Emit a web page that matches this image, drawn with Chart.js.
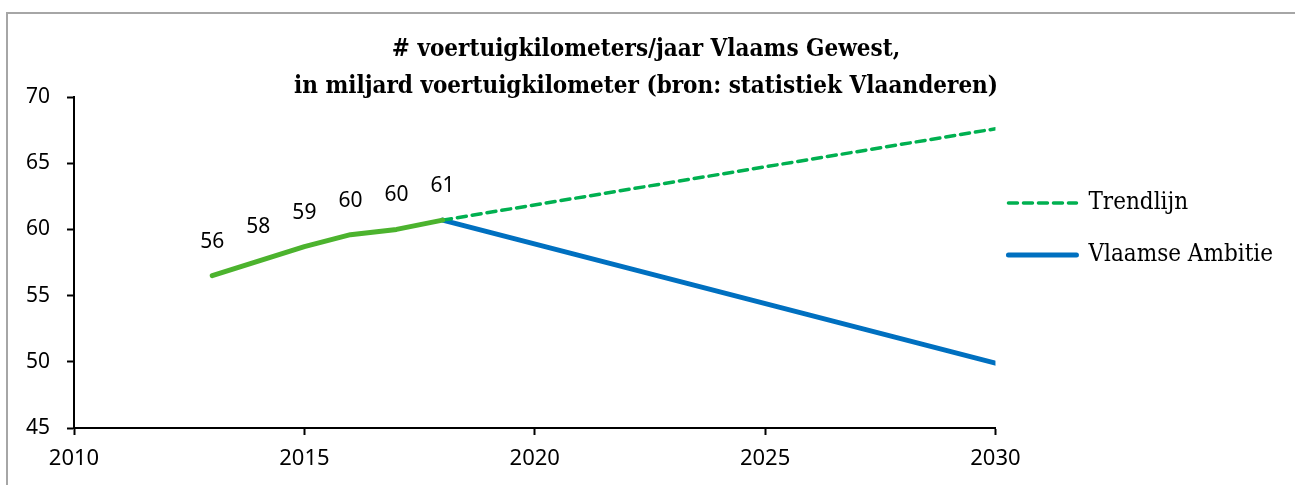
<!DOCTYPE html>
<html>
<head>
<meta charset="utf-8">
<script src="https://cdn.jsdelivr.net/npm/chart.js"></script>
<style>
  html, body { margin: 0; padding: 0; background: #fff; }
  #frame {
    position: absolute; left: 6px; top: 12px; width: 1400px; height: 600px;
    border-left: 2px solid #a6a6a6; border-top: 2px solid #a6a6a6;
  }
  #wrap { position: absolute; left: 0; top: 0; width: 1295px; height: 485px; }
</style>
</head>
<body>
<div id="frame"></div>
<div id="wrap"><canvas id="kmChart"></canvas></div>
<script>
// === DATA ===
const histYears = [2013, 2014, 2015, 2016, 2017, 2018];
const histValues = [56.5, 57.6, 58.7, 59.6, 60.0, 60.7];
const histLabels = ["56", "58", "59", "60", "60", "61"];
const trendYears = [2018, 2030];
const trendValues = [60.7, 67.6];
const ambitieYears = [2018, 2030];
const ambitieValues = [60.7, 49.9];
const xTicks = [2010, 2015, 2020, 2025, 2030];
const yTicks = [45, 50, 55, 60, 65, 70];

const sansFont = "'Noto Sans', sans-serif";
const serifFont = "'DejaVu Serif Condensed', 'DejaVu Serif', serif";

const toPoints = (xs, ys) => xs.map((x, i) => ({ x: x, y: ys[i] }));

// labels boven de historische punten
const pointLabels = {
  id: "pointLabels",
  afterDatasetsDraw(chart) {
    const ctx = chart.ctx;
    const meta = chart.getDatasetMeta(0);
    ctx.save();
    ctx.font = "21px " + sansFont;
    ctx.fillStyle = "#000";
    ctx.textAlign = "center";
    ctx.textBaseline = "middle";
    meta.data.forEach((pt, i) => {
      ctx.fillText(histLabels[i], pt.x, pt.y - 34);
    });
    ctx.restore();
  },
};

const axisGrid = {
  display: true,
  drawOnChartArea: false,
  drawTicks: true,
  tickLength: 7,
  tickColor: "#000",
  tickWidth: 2,
};

const ctx = document.getElementById("kmChart").getContext("2d");
const kmChart = new Chart(ctx, {
  type: "line",
  data: {
    datasets: [
      {
        label: "Historiek",
        data: toPoints(histYears, histValues),
        borderColor: "#4cb32e",
        borderWidth: 5,
        borderCapStyle: "round",
        borderJoinStyle: "round",
        pointRadius: 0,
        fill: false,
        tension: 0,
      },
      {
        label: "Trendlijn",
        data: toPoints(trendYears, trendValues),
        borderColor: "#00b050",
        borderWidth: 3.5,
        borderDash: [9, 6],
        borderCapStyle: "round",
        pointRadius: 0,
        fill: false,
      },
      {
        label: "Vlaamse Ambitie",
        data: toPoints(ambitieYears, ambitieValues),
        borderColor: "#0070c0",
        borderWidth: 5,
        borderCapStyle: "round",
        pointRadius: 0,
        fill: false,
      },
    ],
  },
  options: {
    responsive: true,
    maintainAspectRatio: false,
    animation: false,
    layout: { padding: { left: 9, right: 12, top: 0, bottom: 2 } },
    scales: {
      x: {
        type: "linear",
        min: 2010,
        max: 2030,
        afterBuildTicks: (axis) => { axis.ticks = xTicks.map((v) => ({ value: v })); },
        grid: axisGrid,
        border: { color: "#000", width: 2 },
        ticks: { color: "#000", padding: 13, font: { family: sansFont, size: 22, lineHeight: "22px" }, callback: (v) => String(v) },
      },
      y: {
        min: 45,
        max: 70,
        afterBuildTicks: (axis) => { axis.ticks = yTicks.map((v) => ({ value: v })); },
        grid: axisGrid,
        border: { color: "#000", width: 2 },
        ticks: { color: "#000", padding: 17, font: { family: sansFont, size: 21 } },
      },
    },
    plugins: {
      title: {
        display: true,
        text: ["# voertuigkilometers/jaar Vlaams Gewest,", "in miljard voertuigkilometer (bron: statistiek Vlaanderen)"],
        color: "#000",
        font: { family: serifFont, size: 24, weight: "bold", lineHeight: "37px" },
        padding: { top: 31, bottom: -8 },
      },
      legend: {
        position: "right",
        align: "start",
        fullSize: false,
        title: { display: true, text: " ", font: { size: 10 }, padding: { top: 69, bottom: 0 } },
        labels: {
          usePointStyle: true,
          pointStyle: "line",
          pointStyleWidth: 68,
          padding: 13,
          color: "#000",
          font: { family: serifFont, size: 24, lineHeight: "39px" },
          generateLabels(chart) {
            const items = Chart.defaults.plugins.legend.labels.generateLabels(chart);
            return items
              .filter((it) => it.datasetIndex > 0)
              .map((it) => {
                const ds = chart.data.datasets[it.datasetIndex];
                return Object.assign(it, {
                  text: [it.text],
                  strokeStyle: ds.borderColor,
                  lineWidth: ds.borderWidth,
                  lineDash: ds.borderDash || [],
                  lineCap: "round",
                });
              });
          },
        },
      },
      tooltip: { enabled: false },
    },
  },
  plugins: [pointLabels],
});
</script>
</body>
</html>
